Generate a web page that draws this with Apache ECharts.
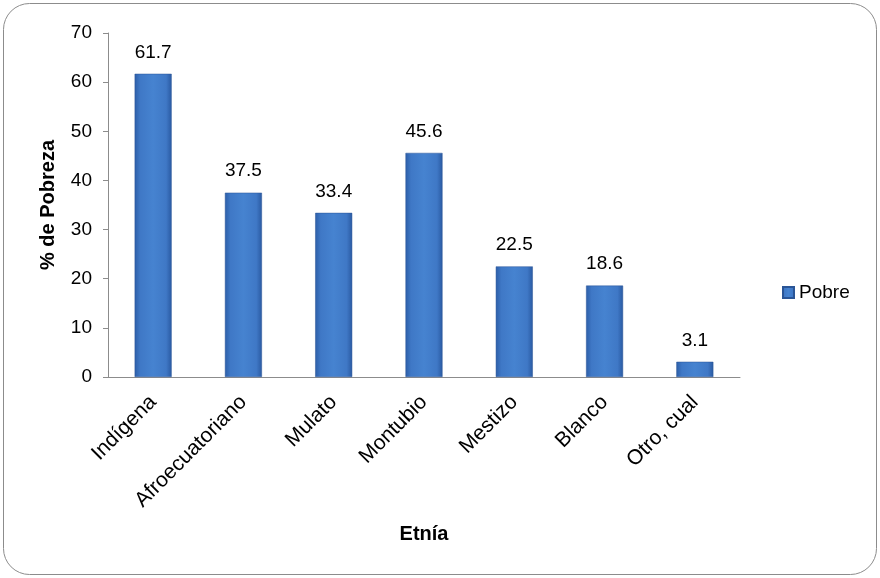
<!DOCTYPE html>
<html><head><meta charset="utf-8">
<script src="https://cdn.jsdelivr.net/npm/echarts@6/dist/echarts.min.js"></script>
<style>html,body{margin:0;padding:0;background:#fff}#c{width:880px;height:578px}</style>
</head><body><div id="c"></div>
<script>
var categories = ['Indígena','Afroecuatoriano','Mulato','Montubio','Mestizo','Blanco','Otro, cual'];
var pobre = [61.7, 37.5, 33.4, 45.6, 22.5, 18.6, 3.1];
var seriesName = 'Pobre';
var yTitle = '% de Pobreza';
var xTitle = 'Etnía';

var chart = echarts.init(document.getElementById('c'));
var barColor = new echarts.graphic.LinearGradient(0,0,1,0,[
  {offset:0,color:'#2c5ea8'},
  {offset:0.15,color:'#3f78c6'},
  {offset:0.5,color:'#4683d0'},
  {offset:0.85,color:'#3f78c6'},
  {offset:1,color:'#2a5aa2'}
]);
var ff = 'Liberation Sans, Arial, sans-serif';
chart.setOption({
  animation:false,
  textStyle:{fontFamily:ff},
  graphic:[{type:'rect',shape:{x:3.5,y:3.5,width:873,height:571,r:26},style:{fill:'none',stroke:'#8c8c8c',lineWidth:1}}],
  grid:{left:108,right:140,top:33,bottom:201},
  legend:{left:782,top:283,padding:0,orient:'vertical',itemWidth:11,itemHeight:11,itemGap:5,
    textStyle:{fontSize:19,color:'#000',fontFamily:ff},
    data:[{name:seriesName,icon:'rect'}]},
  xAxis:{type:'category',data:categories,
    name:xTitle,nameLocation:'middle',nameGap:147,
    nameTextStyle:{fontSize:20,fontWeight:'bold',color:'#000',fontFamily:ff},
    axisLine:{lineStyle:{color:'#8c8c8c'}},axisTick:{show:false},
    axisLabel:{rotate:45,fontSize:21,color:'#000',interval:0,margin:22,fontFamily:ff}},
  yAxis:{type:'value',min:0,max:70,interval:10,
    name:yTitle,nameLocation:'middle',nameGap:50,nameRotate:90,
    nameTextStyle:{fontSize:20,fontWeight:'bold',color:'#000',fontFamily:ff},
    axisLine:{show:true,lineStyle:{color:'#8c8c8c'}},
    axisTick:{show:true,length:5,lineStyle:{color:'#8c8c8c'}},
    splitLine:{show:false},
    axisLabel:{fontSize:19,color:'#000',margin:16,fontFamily:ff}},
  series:[{name:seriesName,type:'bar',data:pobre,barWidth:37,
    itemStyle:{color:barColor,borderColor:'#2a5596',borderWidth:0.5},
    label:{show:true,position:'top',distance:12,fontSize:19,color:'#000',fontFamily:ff,formatter:function(p){return p.value.toFixed(1);}}}]
});
</script></body></html>
